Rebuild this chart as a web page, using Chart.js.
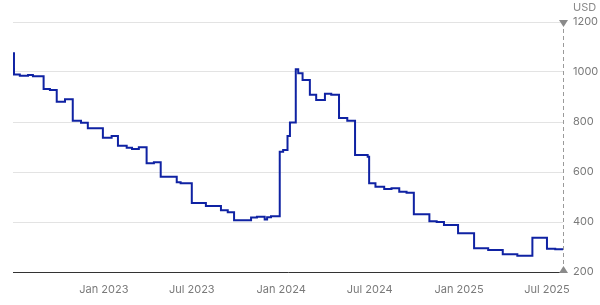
<!DOCTYPE html>
<html>
<head>
<meta charset="utf-8">
<script src="https://cdn.jsdelivr.net/npm/chart.js@4"></script>
<style>
  html, body { margin: 0; padding: 0; background: #fff; }
  #wrap { width: 600px; height: 305px; position: relative; }
</style>
</head>
<body>
<div id="wrap"><canvas id="c"></canvas></div>
<script>
const dates = ['2022-06-28','2022-06-30','2022-07-12','2022-07-29','2022-08-08','2022-08-30','2022-09-12','2022-09-26','2022-10-13','2022-10-29','2022-11-15','2022-11-29','2022-12-30','2023-01-17','2023-01-30','2023-02-17','2023-02-28','2023-03-14','2023-03-30','2023-04-14','2023-04-28','2023-05-31','2023-06-08','2023-07-01','2023-07-30','2023-08-30','2023-09-13','2023-09-26','2023-10-31','2023-11-12','2023-11-28','2023-12-03','2023-12-11','2023-12-29','2024-01-05','2024-01-14','2024-01-19','2024-01-31','2024-02-05','2024-02-14','2024-02-29','2024-03-13','2024-03-31','2024-04-13','2024-04-29','2024-05-16','2024-06-01','2024-06-27','2024-06-30','2024-07-13','2024-07-31','2024-08-15','2024-08-31','2024-09-15','2024-09-30','2024-11-01','2024-11-16','2024-12-01','2024-12-30','2025-02-01','2025-03-02','2025-04-01','2025-05-01','2025-06-01','2025-07-01','2025-07-18','2025-08-03'];
const prices = [1075,990,985,988,983,932,928,881,891,805,797,775,737,744,705,697,692,699,635,639,581,559,555,476,464,447,439,407,418,421,410,419,423,681,688,744,798,1011,995,968,909,888,913,909,816,805,668,661,555,541,532,535,521,517,431,403,400,388,355,295,288,271,265,337,293,291,291];
const tickDates = ['2023-01-01','2023-07-01','2024-01-01','2024-07-01','2025-01-01','2025-07-01'];
const tickLabels = ['Jan 2023','Jul 2023','Jan 2024','Jul 2024','Jan 2025','Jul 2025'];
const yTicks = [200,400,600,800,1000,1200];
const unitLabel = 'USD';
const xMin = '2022-06-28';
const xMax = '2025-08-03';

const t = s => Date.parse(s);
const points = dates.map((d, i) => ({ x: t(d), y: prices[i] }));
const tickLabelMap = {};
tickDates.forEach((d, i) => { tickLabelMap[t(d)] = tickLabels[i]; });

const FONT = 'Inter, "Noto Sans", sans-serif';

const overlay = {
  id: 'overlay',
  afterDatasetsDraw(chart) {
    const ctx = chart.ctx;
    const xs = chart.scales.x, ys = chart.scales.y;
    const ca = chart.chartArea;
    const lx = Math.round(xs.getPixelForValue(t(dates[dates.length - 1]))) + 0.5;
    ctx.save();
    ctx.strokeStyle = '#9a9a9a';
    ctx.lineWidth = 1;
    ctx.setLineDash([4, 3]);
    ctx.beginPath();
    ctx.moveTo(lx, ca.top);
    ctx.lineTo(lx, ca.bottom);
    ctx.stroke();
    ctx.setLineDash([]);
    ctx.fillStyle = '#8a8a8a';
    ctx.beginPath();
    ctx.moveTo(lx - 4.5, ca.top - 2);
    ctx.lineTo(lx + 4.5, ca.top - 2);
    ctx.lineTo(lx, ca.top + 5);
    ctx.closePath();
    ctx.fill();
    ctx.beginPath();
    ctx.moveTo(lx - 4.5, ca.bottom + 1);
    ctx.lineTo(lx + 4.5, ca.bottom + 1);
    ctx.lineTo(lx, ca.bottom - 6);
    ctx.closePath();
    ctx.fill();
    ctx.font = '11px ' + FONT;
    ctx.fillStyle = '#8a8a8a';
    ctx.textAlign = 'left';
    ctx.textBaseline = 'middle';
    ctx.fillText(unitLabel, ys.left + 10, 8);
    ctx.restore();
  }
};

new Chart(document.getElementById('c'), {
  type: 'line',
  data: {
    datasets: [{
      data: points,
      stepped: true,
      borderColor: '#0f22a3',
      borderWidth: 2,
      pointRadius: 0,
      fill: false,
      tension: 0
    }]
  },
  options: {
    responsive: true,
    maintainAspectRatio: false,
    animation: false,
    layout: { padding: { left: 13, top: 22, right: 0, bottom: 0 } },
    plugins: { legend: { display: false }, tooltip: { enabled: false } },
    scales: {
      x: {
        type: 'linear',
        min: t(xMin),
        max: t(xMax),
        grid: { display: false, drawTicks: false },
        border: { display: true, color: '#333', width: 1 },
        afterBuildTicks(scale) { scale.ticks = tickDates.map(d => ({ value: t(d) })); },
        afterFit(scale) { scale.height = 33; },
        ticks: {
          autoSkip: false,
          maxRotation: 0,
          padding: 11,
          color: '#7a7a7a',
          font: { family: FONT, size: 11 },
          callback: v => tickLabelMap[v] || ''
        }
      },
      y: {
        position: 'right',
        min: 200,
        max: 1200,
        afterBuildTicks(scale) { scale.ticks = yTicks.map(v => ({ value: v })); },
        afterFit(scale) { scale.width = 37; },
        grid: { color: '#e3e3e3', drawTicks: false, lineWidth: 1 },
        border: { display: false },
        ticks: {
          padding: 10,
          color: '#7a7a7a',
          font: { family: FONT, size: 11 },
          callback: v => String(v)
        }
      }
    }
  },
  plugins: [overlay]
});
</script>
</body>
</html>
